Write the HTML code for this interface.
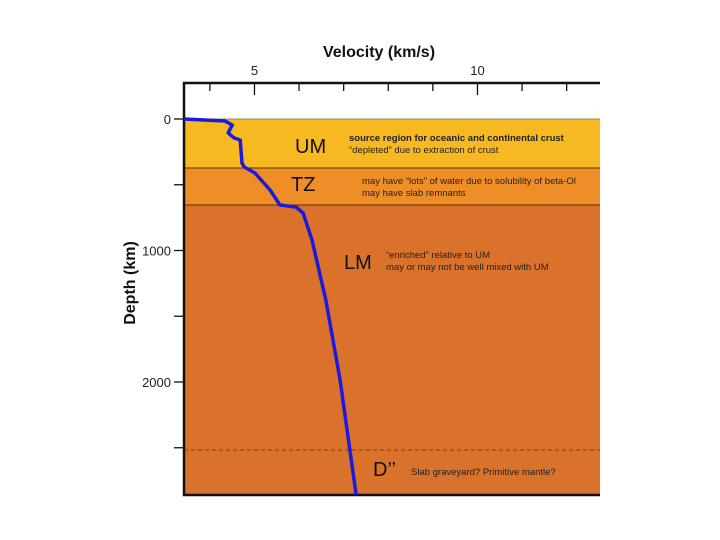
<!DOCTYPE html>
<html><head><meta charset="utf-8"><style>
body{margin:0;background:#fff;}
svg{display:block;font-family:"Liberation Sans",sans-serif;}
</style></head><body>
<svg id="chart" width="720" height="540" viewBox="0 0 720 540"></svg>
<script>
const layerNames=["UM","TZ","LM"];
const layerTops=[0,373,654];
const layerBottoms=[373,654,2860];
const layerColors=["#f6b922","#ef8e26","#db722b"];
const dDoublePrime=2517;
const velocities=[3.42,4.34,4.50,4.41,4.54,4.68,4.72,4.77,5.01,5.35,5.57,5.93,6.09,6.29,6.60,6.92,7.14,7.28];
const depths=[0,15,46,106,144,160,335,365,411,540,654,669,715,920,1376,1985,2517,2860];
const xTicks=[4,5,6,7,8,9,10,11,12];
const xTickLabels={5:"5",10:"10"};
const yTicks=[0,500,1000,1500,2000,2500];
const yTickLabels={0:"0",1000:"1000",2000:"2000"};

const NS="http://www.w3.org/2000/svg";
const svg=document.getElementById('chart');
const L=184,R=600,T=83,B=495;
const vMin=3.42,pxPerV=44.6,y0=119,pxPerKm=0.1315;
const xs=v=>L+(v-vMin)*pxPerV;
const ys=d=>y0+d*pxPerKm;
function mk(tag,attrs,text){const e=document.createElementNS(NS,tag);for(const k in attrs)e.setAttribute(k,attrs[k]);if(text!=null)e.textContent=text;svg.appendChild(e);return e;}

layerNames.forEach((n,i)=>{
  const r=mk('rect',{x:L,y:ys(layerTops[i]),width:R-L,height:ys(layerBottoms[i])-ys(layerTops[i]),fill:layerColors[i]});
  
  
  if(i>0){const l=mk('line',{x1:L,x2:R,y1:ys(layerTops[i]),y2:ys(layerTops[i]),stroke:'#5a3010','stroke-width':1});
    
    }
});
const top0=mk('line',{x1:L,x2:R,y1:ys(0),y2:ys(0),stroke:'#a08060','stroke-width':1});


const dl=mk('line',{x1:L,x2:R,y1:ys(dDoublePrime),y2:ys(dDoublePrime),stroke:'#8a3a10','stroke-width':1,'stroke-dasharray':'4,3'});



const ax=mk('path',{d:`M${R},${T}H${L}V${B}H${R}`,fill:'none',stroke:'#111','stroke-width':2.5});



xTicks.forEach(v=>{
  const big=xTickLabels[v]!=null;
  const t=mk('line',{x1:xs(v),x2:xs(v),y1:T,y2:T+(big?12:8),stroke:'#111','stroke-width':1.3});
  
  
  if(big){const lb=mk('text',{x:xs(v),y:T-8,'text-anchor':'middle','font-size':13,fill:'#222'},xTickLabels[v]);
    
    }
});
yTicks.forEach(d=>{
  const t=mk('line',{x1:L-10,x2:L,y1:ys(d),y2:ys(d),stroke:'#111','stroke-width':1.3});
  
  
  if(yTickLabels[d]!=null){const lb=mk('text',{x:L-13,y:ys(d)+5,'text-anchor':'end','font-size':13,fill:'#222'},yTickLabels[d]);
    
    }
});
const xt=mk('text',{x:379,y:57,'text-anchor':'middle','font-size':16,'font-weight':'bold',fill:'#111'},'Velocity (km/s)');


const yt=mk('text',{x:0,y:0,'text-anchor':'middle','font-size':16,'font-weight':'bold',fill:'#111',transform:'translate(135,283) rotate(-90)'},'Depth (km)');



const pts=velocities.map((v,i)=>xs(v).toFixed(1)+','+ys(depths[i]).toFixed(1)).join(' ');
const pl=mk('polyline',{points:pts,fill:'none',stroke:'#1a1adc','stroke-width':3.5,'stroke-linejoin':'round'});



const labels=[
 ['UM',295,153,20,'um-label'],['TZ',291,191,20,'tz-label'],['LM',344,269,20,'lm-label'],['D’’',373,476,20,'d-double-prime-label']];
labels.forEach(a=>{const e=mk('text',{x:a[1],y:a[2],'font-size':a[3],fill:'#111'},a[0]);
  
  });
const notes=[
 ['source region for oceanic and continental crust',349,141,'bold','um-note-1'],
 ['“depleted” due to extraction of crust',349,153,'normal','um-note-2'],
 ['may have “lots” of water due to solubility of beta-Ol',362,184,'normal','tz-note-1'],
 ['may have slab remnants',362,196,'normal','tz-note-2'],
 ['“enriched” relative to UM',386,258,'normal','lm-note-1'],
 ['may or may not be well mixed with UM',386,270,'normal','lm-note-2'],
 ['Slab graveyard?  Primitive mantle?',411,475,'normal','d-double-prime-note']];
notes.forEach(a=>{const e=mk('text',{x:a[1],y:a[2],'font-size':9.5,'font-weight':a[3],fill:'#222'},a[0]);
  
  });
</script>
</body></html>
